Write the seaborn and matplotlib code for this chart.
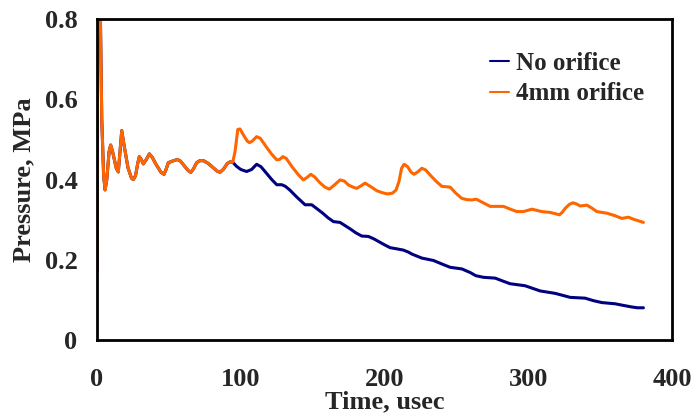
import numpy as np
import pandas as pd
import matplotlib
matplotlib.use("Agg")
import matplotlib.pyplot as plt
import seaborn as sns

# shared early part (both runs identical)
t_common = [0.0, 0.4, 2.0, 3.3, 4.6, 5.6, 6.8, 8.4, 9.5, 10.8, 13.4, 14.8, 16.0, 17.2,
            18.6, 21.5, 24.0, 25.3, 26.8, 28.3, 29.4, 30.8, 32.2, 34.3, 36.4, 38.5,
            41.0, 44.5, 46.6, 48.0, 49.6, 52.5, 55.9, 58.0, 60.5, 63.5, 65.2, 67.0,
            69.3, 71.5, 74.0, 77.0, 80.0, 83.5, 85.6, 88.0, 90.6, 92.5, 94.4]
p_common = [0.17, 0.90, 0.90, 0.55, 0.41, 0.374, 0.400, 0.470, 0.486, 0.470, 0.428, 0.419, 0.470, 0.522,
            0.490, 0.430, 0.403, 0.400, 0.410, 0.440, 0.457, 0.450, 0.439, 0.450, 0.464, 0.455,
            0.438, 0.418, 0.413, 0.425, 0.442, 0.446, 0.450, 0.446, 0.435, 0.422, 0.418, 0.426,
            0.442, 0.447, 0.447, 0.441, 0.432, 0.421, 0.418, 0.426, 0.440, 0.444, 0.443]

# No orifice tail
t_no = [97.0, 100.0, 104.0, 107.5, 111.0, 114.0, 118.0, 121.5, 125.0, 128.5, 131.0, 134.0,
        139.0, 144.7, 149.3, 153.0, 157.0, 160.5, 164.4, 169.0, 172.5, 176.0, 180.0, 184.1,
        188.7, 192.5, 196.0, 200.0, 203.8, 208.5, 213.0, 216.5, 219.0, 225.9, 234.0, 240.0,
        245.6, 253.7, 259.5, 263.5, 268.8, 276.9, 282.0, 287.3, 297.7, 308.2, 318.6, 329.1,
        339.5, 345.0, 351.1, 360.3, 366.0, 371.9, 376.0, 380.0]
p_no = [0.433, 0.425, 0.420, 0.425, 0.438, 0.432, 0.415, 0.400, 0.387, 0.387, 0.383, 0.374,
        0.356, 0.337, 0.337, 0.327, 0.316, 0.305, 0.295, 0.293, 0.285, 0.277, 0.267, 0.259,
        0.258, 0.252, 0.245, 0.237, 0.230, 0.227, 0.224, 0.219, 0.214, 0.204, 0.198, 0.189,
        0.181, 0.177, 0.168, 0.160, 0.156, 0.154, 0.147, 0.140, 0.135, 0.122, 0.116, 0.106,
        0.104, 0.098, 0.093, 0.090, 0.086, 0.082, 0.080, 0.080]

# 4 mm orifice tail
t_4mm = [96.0, 97.9, 99.5, 102.0, 104.5, 106.0, 108.0, 111.0, 113.5, 118.0, 121.5, 125.0,
         127.0, 129.2, 131.5, 136.0, 140.0, 143.5, 146.0, 148.7, 151.5, 155.0, 158.5,
         161.6, 165.0, 169.0, 172.0, 175.0, 178.0, 180.6, 183.5, 186.4, 190.0, 194.6, 198.5,
         202.0, 205.5, 208.0, 210.0, 211.8, 213.6, 216.0, 218.5, 220.5, 223.0, 225.9, 228.5,
         232.0, 236.0, 239.8, 245.6, 249.5, 253.7, 257.0, 260.7, 263.7, 268.5, 273.4, 282.6,
         287.5, 292.0, 296.6, 302.4, 309.4, 315.0, 319.5, 321.6, 323.5, 325.6, 328.5, 331.0,
         333.5, 336.0, 340.7, 344.0, 347.6, 354.6, 360.0, 365.0, 369.6, 373.0, 376.5, 380.0]
p_4mm = [0.470, 0.525, 0.526, 0.510, 0.496, 0.492, 0.496, 0.507, 0.503, 0.480, 0.463, 0.449,
         0.450, 0.457, 0.453, 0.430, 0.412, 0.399, 0.405, 0.413, 0.406, 0.392, 0.381,
         0.376, 0.386, 0.399, 0.396, 0.386, 0.381, 0.378, 0.384, 0.391, 0.383, 0.372, 0.367,
         0.364, 0.366, 0.374, 0.395, 0.428, 0.438, 0.432, 0.418, 0.413, 0.419, 0.428, 0.424,
         0.410, 0.395, 0.383, 0.381, 0.366, 0.353, 0.350, 0.349, 0.351, 0.342, 0.333, 0.333,
         0.326, 0.320, 0.320, 0.326, 0.320, 0.318, 0.314, 0.312, 0.318, 0.328, 0.338, 0.342,
         0.339, 0.334, 0.336, 0.329, 0.320, 0.316, 0.310, 0.303, 0.306, 0.301, 0.297, 0.293]

series_names = ["No orifice", "4mm orifice"]
colors = ["#000080", "#FF6600"]

df = pd.concat([
    pd.DataFrame({"t": t_common + t_no, "p": p_common + p_no, "s": series_names[0]}),
    pd.DataFrame({"t": t_common + t_4mm, "p": p_common + p_4mm, "s": series_names[1]}),
], ignore_index=True)

sns.set_style("white")
plt.rcParams["font.family"] = ["Liberation Serif", "DejaVu Serif"]
plt.rcParams["font.weight"] = "bold"

fig = plt.figure(figsize=(6.98, 4.17), dpi=100)
ax = fig.add_axes([0.139, 0.185, 0.824, 0.769])

sns.lineplot(data=df, x="t", y="p", hue="s", hue_order=series_names,
             palette=colors, estimator=None, sort=False, linewidth=2.2,
             solid_joinstyle="round", ax=ax)

ax.set_xlim(0, 400)
ax.set_ylim(0, 0.8)
ax.set_xticks([0, 100, 200, 300, 400])
ax.set_yticks([0, 0.2, 0.4, 0.6, 0.8])
ax.set_xticklabels(["0", "100", "200", "300", "400"])
ax.set_yticklabels(["0", "0.2", "0.4", "0.6", "0.8"])
ax.tick_params(axis="both", direction="in", length=6, width=0.8, color="#333333",
               labelsize=19)
ax.tick_params(axis="x", pad=20)
ax.tick_params(axis="y", pad=14)
for lab in ax.get_xticklabels() + ax.get_yticklabels():
    lab.set_fontweight("bold")

for sp in ax.spines.values():
    sp.set_visible(True)
    sp.set_color("black")
    sp.set_linewidth(2.0)

ax.set_xlabel("Time, usec", fontsize=19, fontweight="bold", labelpad=0)
ax.set_ylabel("Pressure, MPa", fontsize=19, fontweight="bold", labelpad=7)

leg = ax.legend(loc="center left", bbox_to_anchor=(0.683, 0.815), frameon=False,
                handlelength=0.75, handletextpad=0.3, borderpad=0,
                borderaxespad=0, labelspacing=0.3, prop={"weight": "bold", "size": 18})
for line in leg.get_lines():
    line.set_linewidth(1.5)

fig.savefig("out.png", dpi=100)
